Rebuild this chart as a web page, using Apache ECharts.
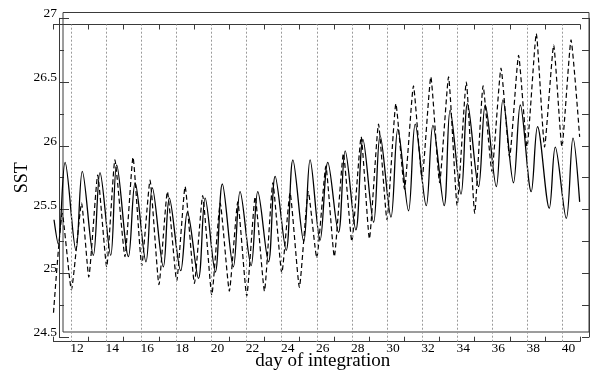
<!DOCTYPE html>
<html><head><meta charset="utf-8">
<script src="https://cdn.jsdelivr.net/npm/echarts@6/dist/echarts.min.js"></script>
<style>html,body{margin:0;padding:0;background:#fff}#c{width:597px;height:370px}</style>
</head><body><div id="c"></div>
<script>
// ---- data ----
const solidDays = [11.03,11.27,11.66,12.28,12.64,13.27,13.65,14.26,14.60,15.27,15.65,16.27,16.63,17.26,17.60,18.25,18.63,19.26,19.64,20.22,20.62,21.25,21.63,22.26,22.64,23.25,23.63,24.26,24.64,25.26,25.62,26.19,26.63,27.24,27.62,28.23,28.63,29.24,29.61,30.23,30.62,31.23,31.61,32.24,32.62,33.26,33.60,34.22,34.59,35.22,35.60,36.23,36.61,37.21,37.60,38.22,38.58,39.25,39.59,40.22,40.60,40.98];
const solidSST  = [25.42,25.23,25.87,25.18,25.80,25.14,25.79,25.14,25.85,25.13,25.71,25.09,25.67,25.05,25.59,25.02,25.48,24.96,25.59,25.01,25.70,25.05,25.64,25.06,25.64,25.09,25.76,25.18,25.89,25.25,25.89,25.26,25.87,25.32,25.96,25.34,26.05,25.40,26.08,25.44,26.13,25.49,26.17,25.53,26.16,25.53,26.28,25.62,26.33,25.68,26.32,25.68,26.36,25.71,26.32,25.64,26.15,25.51,25.99,25.43,26.06,25.56];
const dashedDays = [11.00,11.50,12.02,12.60,13.01,13.52,14.03,14.50,15.07,15.53,16.03,16.50,17.01,17.49,18.02,18.50,19.03,19.50,20.02,20.50,21.02,21.50,22.01,22.49,23.02,23.50,24.01,24.48,25.01,25.52,26.00,26.52,27.00,27.52,28.00,28.53,29.00,29.52,30.00,30.51,31.00,31.51,32.00,32.50,33.00,33.51,34.00,34.52,35.00,35.48,35.98,36.50,36.99,37.50,37.98,38.51,38.98,39.50,39.97,40.49,40.98];
const dashedSST  = [24.69,25.47,24.87,25.55,24.97,25.77,25.05,25.89,25.13,25.91,25.06,25.73,24.91,25.64,24.94,25.68,24.92,25.61,24.83,25.55,24.86,25.56,24.82,25.60,24.86,25.71,25.00,25.63,24.89,25.64,25.12,25.84,25.13,25.94,25.25,26.07,25.27,26.17,25.42,26.33,25.66,26.47,25.74,26.54,25.71,26.54,25.53,26.50,25.47,26.47,25.80,26.61,25.91,26.71,25.99,26.88,25.99,26.79,25.99,26.83,26.07];
const labelDays = [12,14,16,18,20,22,24,26,28,30,32,34,36,38,40];
const tickDays  = [11,13,15,17,19,21,23,25,27,29,31,33,35,37,39,41];
const dayRange = [11, 41];
const sstRange = [24.5, 27];
const sstStep = 0.5;

const FONT = '"Liberation Serif","DejaVu Serif",serif';
const FRAME = '#3a3a3a';
const zip = (xs, ys) => xs.map((x, i) => [x, ys[i]]);

const chart = echarts.init(document.getElementById('c'), null, {renderer: 'canvas'});
chart.setOption({
  animation: false,
  backgroundColor: '#fff',
  grid: [
    {left: 53.5, right: 17, top: 18.3, bottom: 33, containLabel: false, outerBoundsMode: 'none'},
    {left: 53.5, right: 17, top: 24.5, bottom: 28.3, containLabel: false, outerBoundsMode: 'none'},
    {left: 63, right: 8, top: 12.5, bottom: 38, containLabel: false, outerBoundsMode: 'none',
     show: true, borderColor: FRAME, borderWidth: 1, backgroundColor: 'transparent'}
  ],
  xAxis: [
    {gridIndex: 0, type: 'value', min: dayRange[0], max: dayRange[1], show: false},
    {gridIndex: 1, type: 'value', position: 'bottom', min: dayRange[0], max: dayRange[1],
     axisLine: {lineStyle: {color: FRAME, width: 1}},
     axisTick: {inside: true, length: 5, customValues: tickDays, lineStyle: {color: FRAME}},
     axisLabel: {customValues: labelDays, margin: 0, padding: [0, 0, 0, 12], fontSize: 13.5, fontFamily: FONT, color: '#000'},
     splitLine: {show: false},
     name: 'day of integration', nameLocation: 'middle', nameGap: 10, nameMoveOverlap: false,
     nameTextStyle: {fontSize: 19, fontFamily: FONT, color: '#000', padding: [0, 0, 0, 12]}},
    {gridIndex: 1, type: 'value', position: 'top', min: dayRange[0], max: dayRange[1],
     axisLine: {lineStyle: {color: FRAME, width: 1}},
     axisTick: {inside: true, length: 5, customValues: tickDays, lineStyle: {color: FRAME}},
     axisLabel: {show: false}, splitLine: {show: false}},
    {gridIndex: 2, type: 'value', min: 0, max: 1, show: false}
  ],
  yAxis: [
    {gridIndex: 0, type: 'value', position: 'left', offset: -5.5, min: sstRange[0], max: sstRange[1], interval: sstStep,
     axisLine: {show: true, lineStyle: {color: FRAME, width: 1}},
     axisTick: {show: true, inside: true, length: 10, lineStyle: {color: FRAME}},
     minorTick: {show: true, splitNumber: 2, length: 5, lineStyle: {color: FRAME}},
     axisLabel: {margin: 2, fontSize: 13.5, fontFamily: FONT, color: '#000', verticalAlign: 'bottom', lineHeight: 9, formatter: v => String(v)},
     splitLine: {show: false},
     name: 'SST', nameLocation: 'middle', nameGap: 28, nameRotate: 90, nameMoveOverlap: false,
     nameTextStyle: {fontSize: 18, fontFamily: FONT, color: '#000'}},
    {gridIndex: 0, type: 'value', position: 'right', offset: 9, min: sstRange[0], max: sstRange[1], interval: sstStep,
     axisLine: {show: true, lineStyle: {color: FRAME, width: 1}},
     axisTick: {show: true, inside: true, length: 7, lineStyle: {color: FRAME}},
     minorTick: {show: true, splitNumber: 2, length: 7, lineStyle: {color: FRAME}},
     axisLabel: {show: false}, splitLine: {show: false}},
    {gridIndex: 1, type: 'value', min: 0, max: 1, show: false},
    {gridIndex: 2, type: 'value', min: 0, max: 1, show: false}
  ],
  series: [
    {type: 'line', xAxisIndex: 1, yAxisIndex: 2, data: [], z: 1, silent: true,
     markLine: {silent: true, symbol: ['none', 'none'], label: {show: false},
       lineStyle: {type: [2, 2], color: '#9a9a9a', width: 1},
       emphasis: {disabled: true},
       data: labelDays.map(d => ({xAxis: d}))}},
    {type: 'line', name: 'solid', xAxisIndex: 0, yAxisIndex: 0, z: 3,
     data: zip(solidDays, solidSST), showSymbol: false, smooth: 0.35, sampling: 'none',
     lineStyle: {color: '#000', width: 1.3}},
    {type: 'line', name: 'dashed', xAxisIndex: 0, yAxisIndex: 0, z: 3,
     data: zip(dashedDays, dashedSST), showSymbol: false, smooth: 0.15, sampling: 'none',
     lineStyle: {color: '#000', width: 1.2, type: [5, 3]}}
  ]
});
</script></body></html>
